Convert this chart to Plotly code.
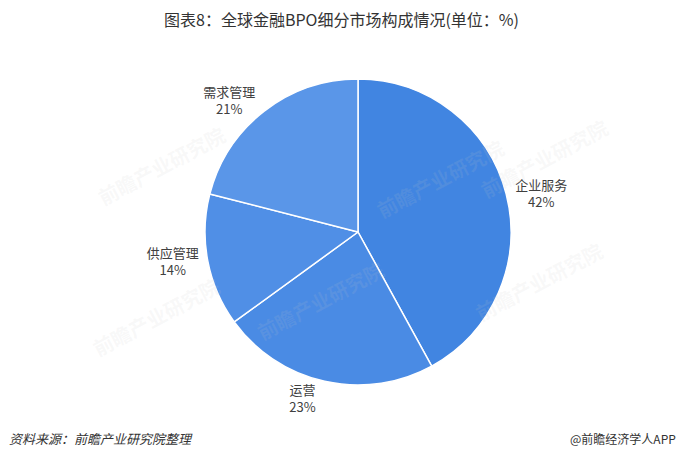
import plotly.graph_objects as go

categories = ["企业服务", "运营", "供应管理", "需求管理"]
values = [42, 23, 14, 21]
colors = ["#4185E1", "#4A8BE4", "#508FE6", "#5A96E8"]

title_text = "图表8：全球金融BPO细分市场构成情况(单位：%)"
source_text = "资料来源：前瞻产业研究院整理"
brand_text = "@前瞻经济学人APP"

W, H = 680, 460
cx, cy, r = 358, 232, 153

fig = go.Figure()
fig.add_trace(go.Pie(
    labels=categories,
    values=values,
    sort=False,
    direction="clockwise",
    rotation=0,
    marker=dict(colors=colors, line=dict(color="#ffffff", width=1.5)),
    textposition="outside",
    texttemplate="%{label}<br>%{value}%",
    textfont=dict(family="Noto Sans CJK SC", size=13, color="#404040"),
    showlegend=False,
    hoverinfo="label+percent",
    domain=dict(x=[(cx - r) / W, (cx + r) / W], y=[(H - cy - r) / H, (H - cy + r) / H]),
))

annotations = [
    dict(text=title_text, x=341 / W, y=1 - 19 / H, xref="paper", yref="paper",
         xanchor="center", yanchor="middle", showarrow=False,
         font=dict(family="Noto Sans CJK SC", size=16, color="#333333")),
    dict(text="<i>" + source_text + "</i>", x=7 / W, y=1 - 438 / H, xref="paper", yref="paper",
         xanchor="left", yanchor="middle", showarrow=False,
         font=dict(family="Noto Sans CJK SC", size=13, color="#333333")),
    dict(text=brand_text, x=1 - 2 / W, y=1 - 438 / H, xref="paper", yref="paper",
         xanchor="right", yanchor="middle", showarrow=False,
         font=dict(family="Noto Sans CJK SC", size=12, color="#333333")),
]

# faint watermarks, kept clear of the labels
for wx, wy in [(90, 165), (440, 130), (615, 110), (320, 300), (85, 365), (610, 330)]:
    annotations.append(dict(text="<b>前瞻产业研究院</b>", x=wx / W, y=1 - wy / H, xref="paper", yref="paper",
                            showarrow=False, textangle=-28,
                            font=dict(family="Noto Sans CJK SC", size=20, color="rgba(200,200,200,0.12)")))

fig.update_layout(
    width=W, height=H,
    margin=dict(l=0, r=0, t=0, b=0),
    paper_bgcolor="#ffffff",
    plot_bgcolor="#ffffff",
    annotations=annotations,
)

fig.write_html("out.html", config={"displayModeBar": False},
               post_script="document.body.style.margin='0';")
